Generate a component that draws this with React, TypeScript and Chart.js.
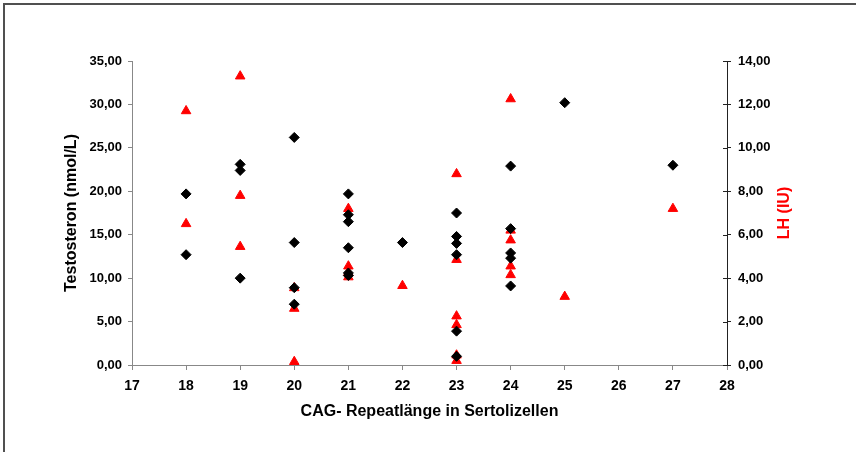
import React, { useEffect, useRef } from "react";
import { Chart, registerables } from "chart.js";

Chart.register(...registerables);

// CAG repeat length (x) and testosterone (nmol/L, left axis)
const testX = [18, 18, 19, 19, 19, 20, 20, 20, 20, 21, 21, 21, 21, 21, 21, 22, 23, 23, 23, 23, 23, 23, 24, 24, 24, 24, 24, 25, 27];
const testY = [19.7, 12.7, 23.1, 22.4, 10.0, 26.2, 14.1, 8.9, 7.0, 19.7, 17.3, 16.5, 13.5, 10.6, 10.3, 14.1, 17.5, 14.8, 14.0, 12.7, 3.9, 1.0, 22.9, 15.7, 12.9, 12.3, 9.1, 30.2, 23.0];

// CAG repeat length (x) and LH (IU, right axis)
const lhX = [18, 18, 19, 19, 19, 20, 20, 20, 21, 21, 21, 21, 22, 23, 23, 23, 23, 23, 23, 24, 24, 24, 24, 24, 25, 27];
const lhY = [11.7, 6.5, 13.3, 7.8, 5.45, 3.55, 2.6, 0.15, 7.2, 4.55, 4.25, 4.05, 3.65, 8.8, 4.85, 2.25, 1.85, 0.45, 0.2, 12.25, 6.2, 5.75, 4.55, 4.15, 3.15, 7.2];

const xMin = 17;
const xMax = 28;
const leftMax = 35;
const leftStep = 5;
const rightMax = 14;
const rightStep = 2;

const xTitle = "CAG- Repeatlänge in Sertolizellen";
const leftTitle = "Testosteron (nmol/L)";
const rightTitle = "LH (IU)";

const fmt = (v: number) => v.toFixed(2).replace(".", ",");

export default function App() {
  const ref = useRef<HTMLCanvasElement | null>(null);

  useEffect(() => {
    if (!ref.current) return;
    const framePlugin = {
      id: "frame",
      beforeDraw(chart: any) {
        const ctx = chart.ctx;
        ctx.save();
        ctx.strokeStyle = "#505050";
        ctx.lineWidth = 2;
        ctx.beginPath();
        ctx.moveTo(4, 452);
        ctx.lineTo(4, 4);
        ctx.lineTo(856, 4);
        ctx.stroke();
        ctx.restore();
      },
      afterDraw(chart: any) {
        const ctx = chart.ctx;
        const s = chart.scales.y2;
        ctx.save();
        ctx.strokeStyle = "#222";
        ctx.lineWidth = 1;
        for (let v = 0; v <= rightMax; v += rightStep) {
          const y = Math.round(s.getPixelForValue(v)) + 0.5;
          ctx.beginPath();
          ctx.moveTo(s.left - 4, y);
          ctx.lineTo(s.left, y);
          ctx.stroke();
        }
        // right axis title (reads bottom to top)
        const area = chart.chartArea;
        ctx.translate(785, (area.top + area.bottom) / 2);
        ctx.rotate(-Math.PI / 2);
        ctx.fillStyle = "#ff0000";
        ctx.font = "bold 16px 'Liberation Sans', Arial, sans-serif";
        ctx.textAlign = "center";
        ctx.textBaseline = "middle";
        ctx.fillText(rightTitle, 0, 0);
        ctx.restore();
      },
    };

    const tickFont = { family: "'Liberation Sans', Arial, sans-serif", size: 13, weight: "bold" as const };
    const titleFont = { family: "'Liberation Sans', Arial, sans-serif", size: 16, weight: "bold" as const };

    const chart = new Chart(ref.current, {
      type: "scatter",
      data: {
        datasets: [
          {
            label: "Testosteron",
            data: testX.map((x, i) => ({ x, y: testY[i] })),
            yAxisID: "y",
            pointStyle: "rectRot",
            pointRadius: 5,
            backgroundColor: "#000000",
            borderColor: "#000000",
            borderWidth: 1,
            clip: false as any,
          },
          {
            label: "LH",
            data: lhX.map((x, i) => ({ x, y: lhY[i] })),
            yAxisID: "y2",
            pointStyle: "triangle",
            pointRadius: 5.5,
            backgroundColor: "#ff0000",
            borderColor: "#ff0000",
            borderWidth: 1,
            clip: false as any,
          },
        ],
      },
      options: {
        responsive: false,
        animation: false,
        layout: { padding: { top: 61, left: 0, right: 0, bottom: 0 } },
        plugins: { legend: { display: false }, tooltip: { enabled: false } },
        scales: {
          x: {
            type: "linear",
            min: xMin,
            max: xMax,
            afterFit: (s: any) => { s.height = 87; },
            ticks: { stepSize: 1, color: "#000", font: { ...tickFont, size: 14 }, padding: 8, maxRotation: 0 },
            grid: { display: true, drawOnChartArea: false, drawTicks: true, tickLength: 5, color: "#888" },
            border: { display: true, color: "#888", width: 1 },
            title: { display: true, text: xTitle, color: "#000", font: titleFont, padding: { top: 0, bottom: 31 } },
          },
          y: {
            type: "linear",
            position: "left",
            min: 0,
            max: leftMax,
            afterFit: (s: any) => { s.width = 132; },
            ticks: { stepSize: leftStep, color: "#000", font: tickFont, padding: 6, callback: (v: any) => fmt(Number(v)) },
            grid: { display: true, drawOnChartArea: false, drawTicks: true, tickLength: 4, color: "#888" },
            border: { display: true, color: "#888", width: 1 },
            title: { display: true, text: leftTitle, color: "#000", font: titleFont, padding: { top: 62, bottom: 0 } },
          },
          y2: {
            type: "linear",
            position: "right",
            min: 0,
            max: rightMax,
            afterFit: (s: any) => { s.width = 129; },
            ticks: { stepSize: rightStep, color: "#000", font: tickFont, padding: 7, callback: (v: any) => fmt(Number(v)) },
            grid: { display: true, drawOnChartArea: false, drawTicks: true, tickLength: 4, color: "#222" },
            border: { display: true, color: "#222", width: 1 },
          },
        },
      },
      plugins: [framePlugin],
    });
    return () => chart.destroy();
  }, []);

  return (
    <div style={{ position: "fixed", left: 0, top: 0, width: 856, height: 452, background: "#fff" }}>
      <canvas ref={ref} width={856} height={452} style={{ width: 856, height: 452, display: "block" }} />
    </div>
  );
}
